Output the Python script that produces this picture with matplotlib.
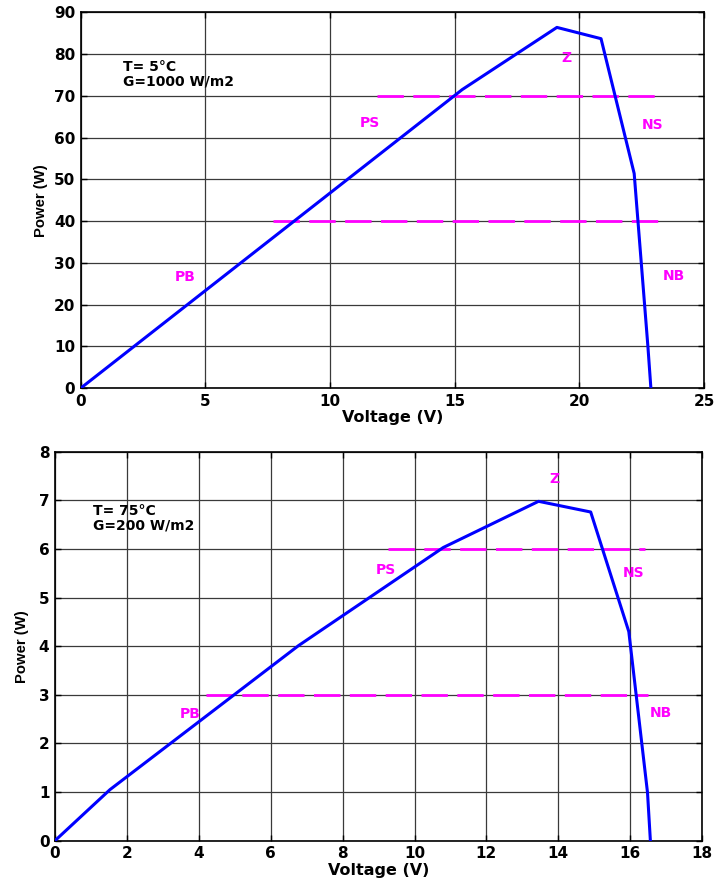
import matplotlib
matplotlib.use("Agg")
import matplotlib.pyplot as plt

plt.rcParams['font.family'] = ['DejaVu Sans']
plt.rcParams['font.weight'] = 'bold'

# Upper panel: T = 5 °C, G = 1000 W/m2
v_top = [0.0, 15.3, 19.1, 20.87, 22.2, 22.75, 22.87]
p_top = [0.0, 71.5, 86.4, 83.7, 51.4, 10.0, 0.0]
lvl_top = [70, 40]
lvl_top_x = [(11.9, 23.2), (7.7, 23.4)]
lab_top = ["Z", "PS", "NS", "NB", "PB"]
lab_top_xy = [(19.5, 79), (11.6, 63.4), (22.95, 63), (23.8, 26.8), (4.2, 26.5)]
cond_top = "T= 5°C\nG=1000 W/m2"

# Lower panel: T = 75 °C, G = 200 W/m2
v_bot = [0.0, 1.53, 6.77, 10.8, 13.45, 14.9, 15.96, 16.48, 16.56]
p_bot = [0.0, 1.05, 4.01, 6.03, 6.98, 6.76, 4.3, 0.99, 0.0]
lvl_bot = [6, 3]
lvl_bot_x = [(9.25, 16.4), (4.2, 16.5)]
lab_bot = ["Z", "PS", "NS", "NB", "PB"]
lab_bot_xy = [(13.9, 7.43), (9.2, 5.56), (16.1, 5.5), (16.85, 2.63), (3.76, 2.6)]
cond_bot = "T= 75°C\nG=200 W/m2"

fig = plt.figure(figsize=(7.28, 8.84), dpi=100)
ax1 = fig.add_axes([0.111, 0.561, 0.856, 0.425])
ax2 = fig.add_axes([0.0755, 0.049, 0.889, 0.440])


def draw(ax, v, p, lvls, lvl_x, labs, lab_xy, cond, cond_xy, xlim, ylim, xticks, yticks, ylab_x):
    ax.plot(v, p, color='#0000ff', lw=2.2, zorder=3)
    for y, (x0, x1) in zip(lvls, lvl_x):
        ax.plot([x0, x1], [y, y], color='#ff00ff', lw=2.0, dashes=(9.5, 3.4), zorder=2)
    for t, (x, y) in zip(labs, lab_xy):
        ax.text(x, y, t, color='#ff00ff', fontsize=10, fontweight='bold',
                ha='center', va='center')
    ax.text(cond_xy[0], cond_xy[1], cond, fontsize=10, fontweight='bold',
            ha='left', va='top', linespacing=1.0)
    ax.set_xlim(*xlim)
    ax.set_ylim(*ylim)
    ax.set_xticks(xticks)
    ax.set_yticks(yticks)
    ax.grid(True, color='#3a3a3a', lw=0.9)
    ax.set_axisbelow(True)
    ax.tick_params(direction='in', top=True, right=True, length=4, width=1,
                   labelsize=11, pad=4)
    for lab in ax.get_xticklabels() + ax.get_yticklabels():
        lab.set_fontweight('bold')
    for s in ax.spines.values():
        s.set_linewidth(1.2)
    ax.set_xlabel('Voltage (V)', fontsize=11.5, fontweight='bold', labelpad=1)
    ax.set_ylabel('Power (W)', fontsize=10.7, fontweight='bold',
                  family=['Liberation Sans', 'DejaVu Sans'])
    ax.yaxis.set_label_coords(ylab_x, 0.5)


draw(ax1, v_top, p_top, lvl_top, lvl_top_x, lab_top, lab_top_xy, cond_top,
     (1.7, 78.5), (0, 25), (0, 90), range(0, 26, 5), range(0, 91, 10), -0.052)
draw(ax2, v_bot, p_bot, lvl_bot, lvl_bot_x, lab_bot, lab_bot_xy, cond_bot,
     (1.06, 6.92), (0, 18), (0, 8), range(0, 19, 2), range(0, 9, 1), -0.040)

fig.savefig('out.png', dpi=100)
